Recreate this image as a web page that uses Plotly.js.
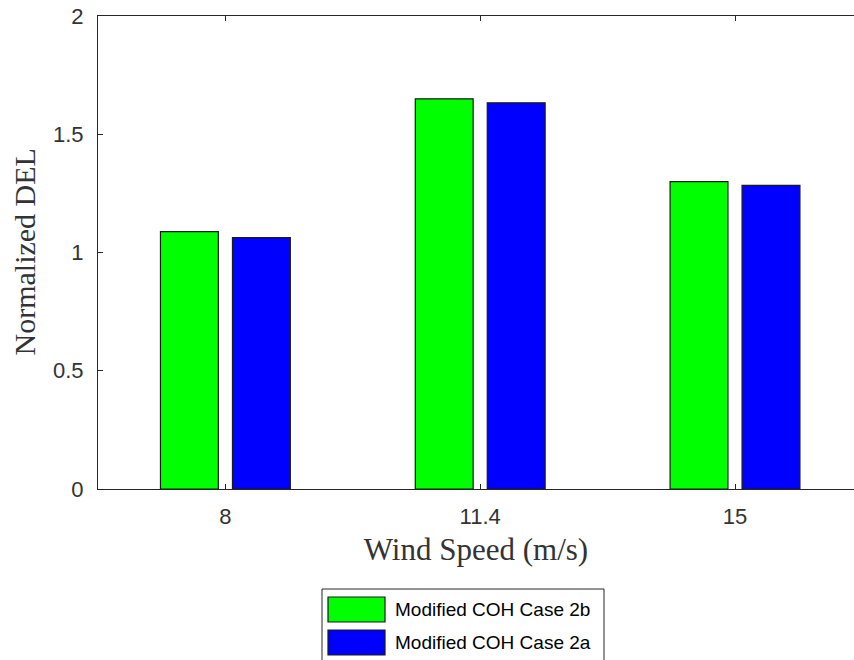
<!DOCTYPE html>
<html>
<head>
<meta charset="utf-8">
<script src="https://cdn.plot.ly/plotly-3.0.1.min.js"></script>
<style>html,body{margin:0;padding:0;background:#fff;}#chart{width:854px;height:660px;}</style>
</head>
<body>
<div id="chart"></div>
<script>
const categories = ["8", "11.4", "15"];
const seriesNames = ["Modified COH Case 2b", "Modified COH Case 2a"];
const case2b = [1.088, 1.650, 1.300];
const case2a = [1.063, 1.633, 1.284];
const yTickVals = [0, 0.5, 1, 1.5, 2];
const yTickText = ["0", "0.5", "1", "1.5", "2"];
const xTitle = "Wind Speed (m/s)";
const yTitle = "Normalized DEL";
const colors = ["#00ff00", "#0000ff"];

const W = 854, H = 660, L = 98, T = 16, B = 171;
const pw = W - L, ph = H - T - B;
const px = x => (x - L) / pw;
const py = y => (H - B - y) / ph;

const traces = [case2b, case2a].map((vals, i) => ({
  type: 'bar', x: categories, y: vals, name: seriesNames[i],
  marker: {color: colors[i], line: {color: '#1a1a1a', width: 1.2}},
  showlegend: false, hoverinfo: 'x+y'
}));

const shapes = [
  {type: 'rect', xref: 'paper', yref: 'paper', x0: px(322), x1: px(604), y0: py(589), y1: py(700),
   line: {color: '#262626', width: 1}, fillcolor: 'rgba(0,0,0,0)'},
];
const annotations = [
  {xref: 'paper', yref: 'paper', x: px(24), y: 0.5, xanchor: 'center', yanchor: 'middle', textangle: -90,
   text: yTitle, showarrow: false, font: {family: 'Liberation Serif, DejaVu Serif, serif', size: 30, color: '#333333'}}
];
seriesNames.forEach((n, i) => {
  const top = 597 + i * 33;
  shapes.push({type: 'rect', xref: 'paper', yref: 'paper', x0: px(328), x1: px(385), y0: py(top), y1: py(top + 25),
    line: {color: '#1a1a1a', width: 1.2}, fillcolor: colors[i]});
  annotations.push({xref: 'paper', yref: 'paper', x: px(393), y: py(top + 12.5), xanchor: 'left', yanchor: 'middle',
    text: n, showarrow: false, font: {family: 'Liberation Sans, Arial, sans-serif', size: 19, color: '#000'}});
});

const layout = {
  width: W, height: H,
  margin: {l: L, r: 0, t: T, b: B, pad: 0},
  paper_bgcolor: '#fff', plot_bgcolor: '#fff',
  barmode: 'group', bargap: 0.435, bargroupgap: 0.196,
  font: {family: 'Liberation Sans, Arial, sans-serif', size: 22, color: '#262626'},
  xaxis: {
    type: 'category', range: [-0.5, 2.467], showgrid: false, zeroline: false,
    showline: true, linecolor: '#262626', linewidth: 1, mirror: 'ticks',
    ticks: 'inside', ticklen: 5, tickcolor: '#262626', ticklabelstandoff: 8,
    tickfont: {size: 22, color: '#333333'},
    title: {text: xTitle, standoff: 9, font: {family: 'Liberation Serif, DejaVu Serif, serif', size: 31, color: '#333333'}}
  },
  yaxis: {
    range: [0, 2], tickvals: yTickVals, ticktext: yTickText, showgrid: false, zeroline: false,
    showline: true, linecolor: '#262626', linewidth: 1,
    ticks: 'inside', ticklen: 5, tickcolor: '#262626', ticklabelstandoff: 9,
    tickfont: {size: 22, color: '#333333'},
    automargin: false
  },
  shapes: shapes, annotations: annotations, showlegend: false
};

Plotly.newPlot('chart', traces, layout, {displayModeBar: false, staticPlot: true});
</script>
</body>
</html>
